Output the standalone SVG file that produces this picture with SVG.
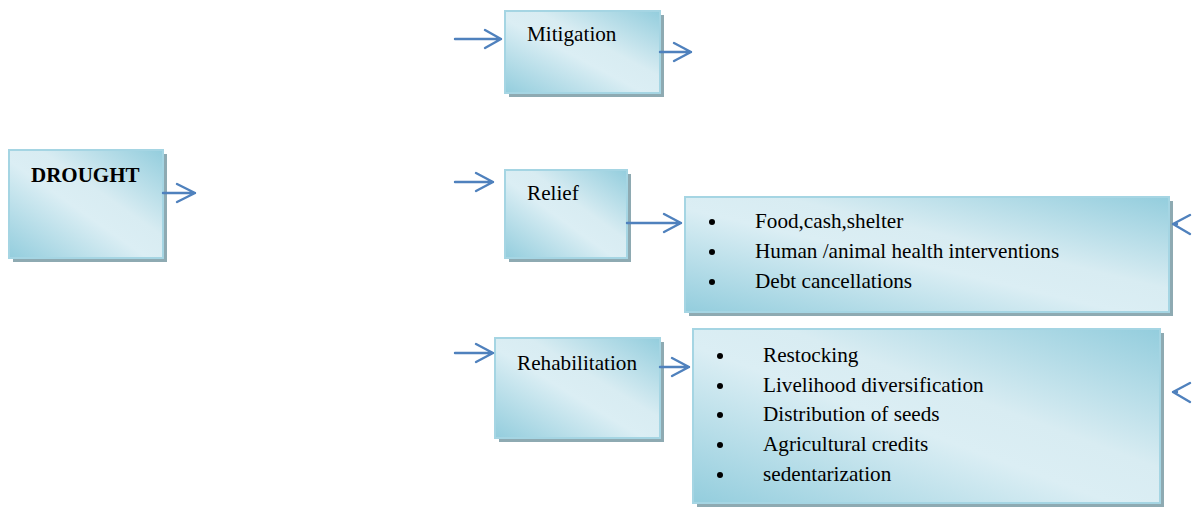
<svg xmlns="http://www.w3.org/2000/svg" width="1199" height="508" viewBox="0 0 1199 508">
<defs>
<linearGradient id="g" x1="0" y1="1" x2="1" y2="0">
<stop offset="0" stop-color="#93cddd"/>
<stop offset="0.45" stop-color="#dbeef4"/>
<stop offset="0.6" stop-color="#d8ecf2"/>
<stop offset="1" stop-color="#93cddd"/>
</linearGradient>
<style>
.sh{fill:#8eaab2}
.bx{fill:url(#g);stroke:#a5d5e3;stroke-width:2}
.t{font-family:"Liberation Serif","Times New Roman",serif;font-size:21.2px;fill:#000}
.b{font-weight:bold;font-size:21px}
.ar{fill:none;stroke:#4f81bd;stroke-width:2.4;stroke-linecap:round;stroke-linejoin:round}
</style>
</defs>
<rect width="1199" height="508" fill="#fff"/>
<g id="drought">
<rect class="sh" x="13" y="154" width="154" height="108"/>
<rect class="bx" x="9" y="150" width="154" height="108"/>
<text class="t b" x="31" y="182">DROUGHT</text>
</g>
<g id="mitigation">
<rect class="sh" x="509" y="15" width="155" height="82"/>
<rect class="bx" x="505" y="11" width="155" height="82"/>
<text class="t" x="527" y="41">Mitigation</text>
</g>
<g id="relief">
<rect class="sh" x="509" y="174" width="122" height="88"/>
<rect class="bx" x="505" y="170" width="122" height="88"/>
<text class="t" x="527" y="200">Relief</text>
</g>
<g id="relief-list">
<rect class="sh" x="689" y="201" width="484" height="115"/>
<rect class="bx" x="685" y="197" width="484" height="115"/>
<g class="t">
<circle cx="712" cy="222" r="3"/>
<circle cx="712" cy="252" r="3"/>
<circle cx="712" cy="282" r="3"/>
<text x="755" y="228">Food,cash,shelter</text>
<text x="755" y="258">Human /animal health interventions</text>
<text x="755" y="288">Debt cancellations</text>
</g>
</g>
<g id="rehabilitation">
<rect class="sh" x="499" y="342" width="165" height="100"/>
<rect class="bx" x="495" y="338" width="165" height="100"/>
<text class="t" x="517" y="370">Rehabilitation</text>
</g>
<g id="rehab-list">
<rect class="sh" x="697" y="333" width="467" height="174"/>
<rect class="bx" x="693" y="329" width="467" height="174"/>
<g class="t">
<circle cx="720" cy="356" r="3"/>
<circle cx="720" cy="386" r="3"/>
<circle cx="720" cy="415" r="3"/>
<circle cx="720" cy="445" r="3"/>
<circle cx="720" cy="475" r="3"/>
<text x="763" y="362">Restocking</text>
<text x="763" y="392">Livelihood diversification</text>
<text x="763" y="421">Distribution of seeds</text>
<text x="763" y="451">Agricultural credits</text>
<text x="763" y="481">sedentarization</text>
</g>
</g>
<g id="connectors" class="ar">
<path d="M163 193H195M177 184L195 193L177 202"/>
<path d="M455 39H501M485 30L501 39L485 48"/>
<path d="M660 52H691M674 43L691 52L674 61"/>
<path d="M455 182H493M476 173L493 182L476 191"/>
<path d="M627 223H681M664 214L681 223L664 232"/>
<path d="M455 353H493M476 344L493 353L476 362"/>
<path d="M660 367H689M672 358L689 367L672 376"/>
<path d="M1190 215L1173 224L1190 234M1173 224H1177"/>
<path d="M1190 383L1173 392L1190 402M1173 392H1177"/>
</g>
</svg>
